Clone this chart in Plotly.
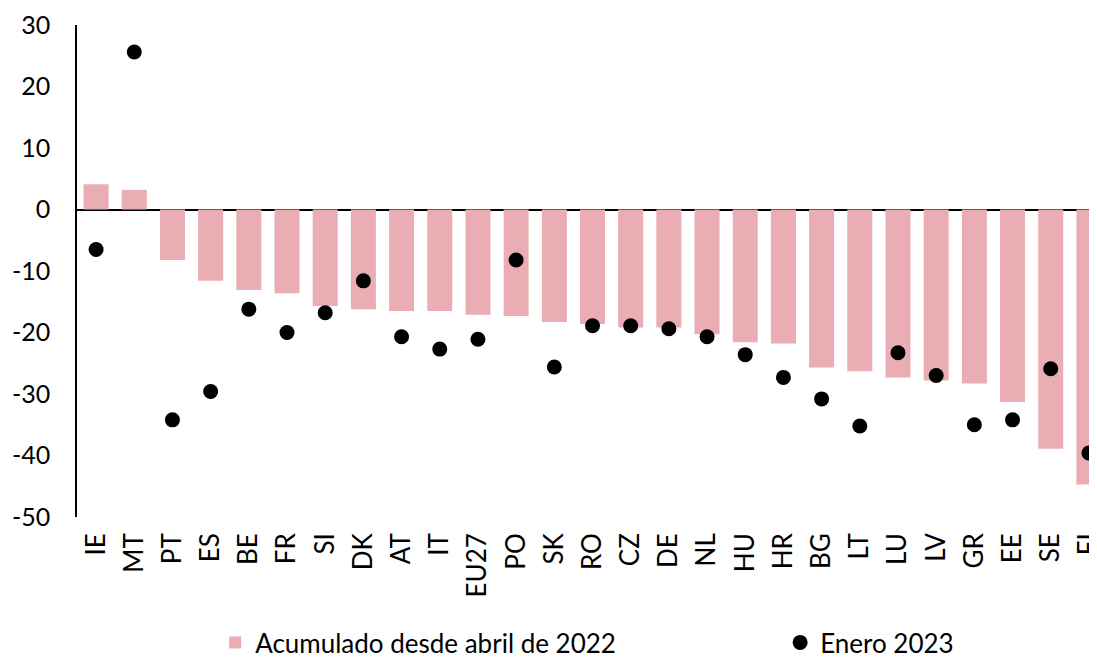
import plotly.graph_objects as go

countries = ["IE", "MT", "PT", "ES", "BE", "FR", "SI", "DK", "AT", "IT", "EU27", "PO", "SK",
             "RO", "CZ", "DE", "NL", "HU", "HR", "BG", "LT", "LU", "LV", "GR", "EE", "SE", "FI"]
acumulado = [4.1, 3.2, -8.2, -11.6, -13.1, -13.6, -15.7, -16.2, -16.5, -16.5, -17.1, -17.3, -18.3,
             -18.6, -19.2, -19.2, -20.3, -21.6, -21.8, -25.7, -26.3, -27.3, -27.8, -28.3, -31.3, -38.9, -44.7]
enero = [-6.5, 25.6, -34.2, -29.6, -16.2, -20.0, -16.8, -11.6, -20.7, -22.7, -21.1, -8.2, -25.6,
         -18.9, -18.9, -19.4, -20.7, -23.6, -27.3, -30.8, -35.2, -23.3, -27.0, -35.0, -34.2, -25.9, -39.6]
y_ticks = [30, 20, 10, 0, -10, -20, -30, -40, -50]

FONT = "Lato"

fig = go.Figure()
fig.add_trace(go.Bar(
    x=countries, y=acumulado, name="Acumulado desde abril de 2022",
    marker=dict(color="#E9ADB3", line=dict(width=0)), width=0.655,
    legend="legend",
))
fig.add_trace(go.Scatter(
    x=countries, y=enero, name="Enero 2023", mode="markers",
    marker=dict(color="black", size=15, symbol="circle"),
    legend="legend2",
))

legend_common = dict(
    orientation="h", xanchor="left", y=-0.2073, yanchor="top",
    font=dict(family=FONT, size=26, color="black"),
    itemwidth=30, bgcolor="rgba(0,0,0,0)", borderwidth=0,
)

fig.update_layout(
    width=1100, height=658,
    margin=dict(l=69, r=0, t=17, b=149, autoexpand=False),
    plot_bgcolor="white", paper_bgcolor="white",
    font=dict(family=FONT, color="black", size=24),
    showlegend=True,
    legend=dict(x=0.134, **legend_common),
    legend2=dict(x=0.682, **legend_common),
    bargap=0.345,
)
fig.update_xaxes(
    type="category", range=[-0.5, 26.5], automargin=False,
    tickangle=-90, tickfont=dict(family=FONT, size=26, color="black"),
    showgrid=False, showline=False, ticks="", ticklabelstandoff=10,
)
fig.update_yaxes(
    range=[-50, 30], tickvals=y_ticks, ticktext=[str(v) for v in y_ticks],
    automargin=False,
    tickfont=dict(family=FONT, size=25, color="black"),
    showgrid=False, showline=True, linecolor="black", linewidth=1.5,
    zeroline=True, zerolinecolor="black", zerolinewidth=2,
    ticks="", ticklabelstandoff=20,
)

fig.write_html("out.html")
